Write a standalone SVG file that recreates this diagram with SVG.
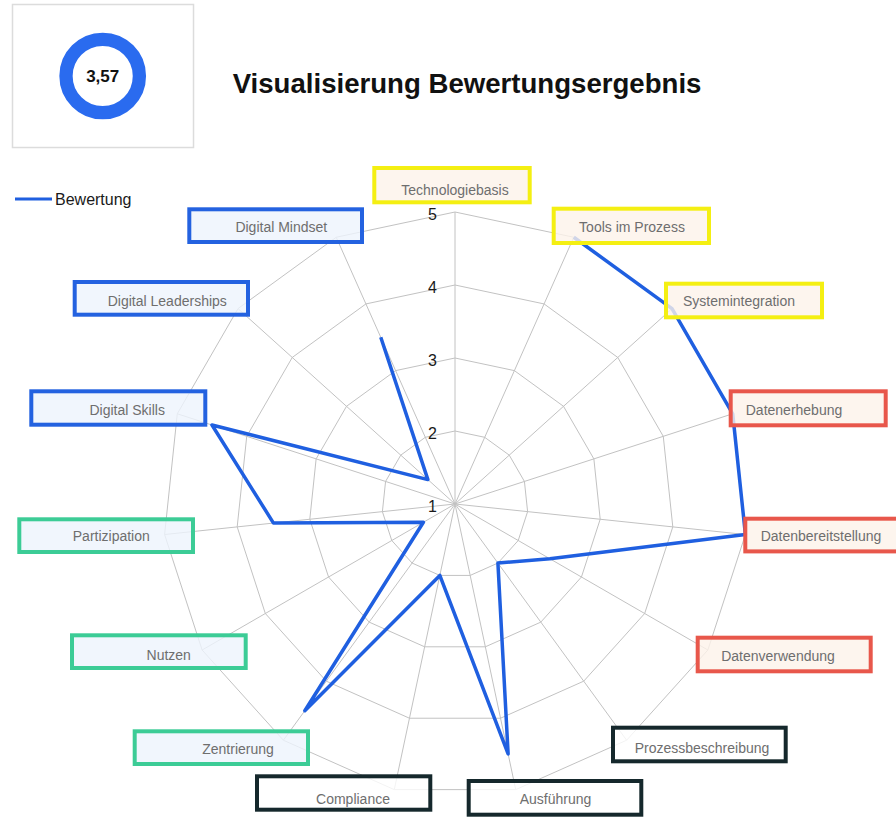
<svg xmlns="http://www.w3.org/2000/svg" width="896" height="823" viewBox="0 0 896 823">
<style>
  .grid { fill: none; stroke: #c2c2c2; stroke-width: 1; }
  .series { fill: none; stroke: #1f5fe0; stroke-width: 3.5; stroke-linejoin: round; stroke-linecap: butt; }
  .box { stroke-width: 4; fill-opacity: 0.8; }
  .yellow { stroke: #f4ef12; fill: #fcf2ea; }
  .red { stroke: #e8574b; fill: #fcf2ea; }
  .dark { stroke: #15282c; fill: #ffffff; }
  .blue { stroke: #2462e0; fill: #edf4fc; }
  .teal { stroke: #3ccc96; fill: #edf4fc; }
  .lbl { font-family: "Liberation Sans", Arial, sans-serif; font-size: 14px; fill: #6e6e6e; text-anchor: middle; }
  .axis { font-family: "Liberation Sans", Arial, sans-serif; font-size: 16px; fill: #1a1a1a; text-anchor: end; }
</style>
<rect width="896" height="823" fill="#ffffff"/>

<g id="score">
  <rect x="12.5" y="4.5" width="181" height="143" fill="#ffffff" stroke="#dcdcdc" stroke-width="1.5"/>
  <circle cx="102.7" cy="76" r="36.7" fill="none" stroke="#2a6bef" stroke-width="13.3"/>
  <text x="102.7" y="82" font-family="'Liberation Sans', Arial, sans-serif" font-size="17" font-weight="bold" fill="#111" text-anchor="middle">3,57</text>
</g>

<g id="title">
  <text x="232.7" y="93.3" font-family="'Liberation Sans', Arial, sans-serif" font-size="27.6" font-weight="bold" fill="#111">Visualisierung Bewertungsergebnis</text>
</g>

<g id="legend">
  <line x1="15" y1="199" x2="52" y2="199" stroke="#1f5fe0" stroke-width="3"/>
  <text x="55" y="205" font-family="'Liberation Sans', Arial, sans-serif" font-size="16" fill="#1a1a1a">Bewertung</text>
</g>

<g id="grid" transform="translate(455,504)">
  <polygon class="grid" points="0,-292 118.77,-266.76 217.00,-195.39 277.71,-90.23 290.40,30.52 252.88,146 171.63,236.23 60.71,285.62 -60.71,285.62 -171.63,236.23 -252.88,146 -290.40,30.52 -277.71,-90.23 -217.00,-195.39 -118.77,-266.76"/>
  <polygon class="grid" points="0,-219 89.08,-200.07 162.75,-146.54 208.28,-67.67 217.80,22.89 189.66,109.5 128.72,177.17 45.53,214.22 -45.53,214.22 -128.72,177.17 -189.66,109.5 -217.80,22.89 -208.28,-67.67 -162.75,-146.54 -89.08,-200.07"/>
  <polygon class="grid" points="0,-146 59.39,-133.38 108.5,-97.70 138.86,-45.12 145.2,15.26 126.44,73 85.82,118.12 30.36,142.81 -30.36,142.81 -85.82,118.12 -126.44,73 -145.2,15.26 -138.86,-45.12 -108.5,-97.70 -59.39,-133.38"/>
  <polygon class="grid" points="0,-73 29.69,-66.69 54.25,-48.85 69.43,-22.56 72.6,7.63 63.22,36.5 42.91,59.06 15.18,71.41 -15.18,71.41 -42.91,59.06 -63.22,36.5 -72.6,7.63 -69.43,-22.56 -54.25,-48.85 -29.69,-66.69"/>
  <path class="grid" d="M0 0L0 -292M0 0L118.77 -266.76M0 0L217.00 -195.39M0 0L277.71 -90.23M0 0L290.40 30.52M0 0L252.88 146M0 0L171.63 236.23M0 0L60.71 285.62M0 0L-60.71 285.62M0 0L-171.63 236.23M0 0L-252.88 146M0 0L-290.40 30.52M0 0L-277.71 -90.23M0 0L-217.00 -195.39M0 0L-118.77 -266.76"/>
</g>

<g id="axis-values">
  <text class="axis" x="437" y="220">5</text>
  <text class="axis" x="437" y="293">4</text>
  <text class="axis" x="437" y="366">3</text>
  <text class="axis" x="437" y="439">2</text>
  <text class="axis" x="437" y="512">1</text>
</g>

<g id="connectors">
  <polyline class="series" points="573.77,237.24 672.00,308.61 732.71,413.77 745.40,534.52 549.83,558.75 497.91,563.06 508.12,753.92 439.82,575.41 304.82,710.70 423.39,522.25 273.50,523.08 212.00,425.05 427.88,479.58 380.77,337.28"/>
</g>

<g id="node-technologiebasis"><rect class="box yellow" x="374.3" y="168" width="155.4" height="34.3"/><text class="lbl" x="455" y="195">Technologiebasis</text></g>
<g id="node-tools"><rect class="box yellow" x="553.7" y="208.7" width="155.3" height="34.3"/><text class="lbl" x="632" y="231.7">Tools im Prozess</text></g>
<g id="node-systemintegration"><rect class="box yellow" x="666" y="283.7" width="156" height="33.6"/><text class="lbl" x="739" y="305.7">Systemintegration</text></g>
<g id="node-datenerhebung"><rect class="box red" x="730.7" y="391.3" width="155" height="34"/><text class="lbl" x="794" y="415">Datenerhebung</text></g>
<g id="node-datenbereitstellung"><rect class="box red" x="745.3" y="518.7" width="160" height="32.7"/><text class="lbl" x="821" y="540.7">Datenbereitstellung</text></g>
<g id="node-datenverwendung"><rect class="box red" x="697.7" y="637.7" width="173" height="33.6"/><text class="lbl" x="778" y="660.7">Datenverwendung</text></g>
<g id="node-prozessbeschreibung"><rect class="box dark" x="613" y="727.7" width="172.7" height="33.6"/><text class="lbl" x="702" y="753.3">Prozessbeschreibung</text></g>
<g id="node-ausfuehrung"><rect class="box dark" x="468.7" y="781" width="172.6" height="33.7"/><text class="lbl" x="555.5" y="804.3">Ausführung</text></g>
<g id="node-compliance"><rect class="box dark" x="257" y="776.3" width="173.3" height="33.4"/><text class="lbl" x="353" y="804">Compliance</text></g>
<g id="node-zentrierung"><rect class="box teal" x="134.7" y="731.3" width="173.3" height="32.7"/><text class="lbl" x="238" y="754">Zentrierung</text></g>
<g id="node-nutzen"><rect class="box teal" x="72" y="635.3" width="173.7" height="32.7"/><text class="lbl" x="168.7" y="660">Nutzen</text></g>
<g id="node-partizipation"><rect class="box teal" x="19.3" y="519.3" width="173.7" height="32.7"/><text class="lbl" x="111.3" y="540.7">Partizipation</text></g>
<g id="node-digital-skills"><rect class="box blue" x="31.3" y="391.3" width="174" height="33.4"/><text class="lbl" x="127.2" y="415">Digital Skills</text></g>
<g id="node-digital-leaderships"><rect class="box blue" x="74.7" y="282" width="173.3" height="32.7"/><text class="lbl" x="167.3" y="306">Digital Leaderships</text></g>
<g id="node-digital-mindset"><rect class="box blue" x="189.3" y="209.3" width="172.7" height="32.7"/><text class="lbl" x="281.3" y="232.3">Digital Mindset</text></g>
</svg>
